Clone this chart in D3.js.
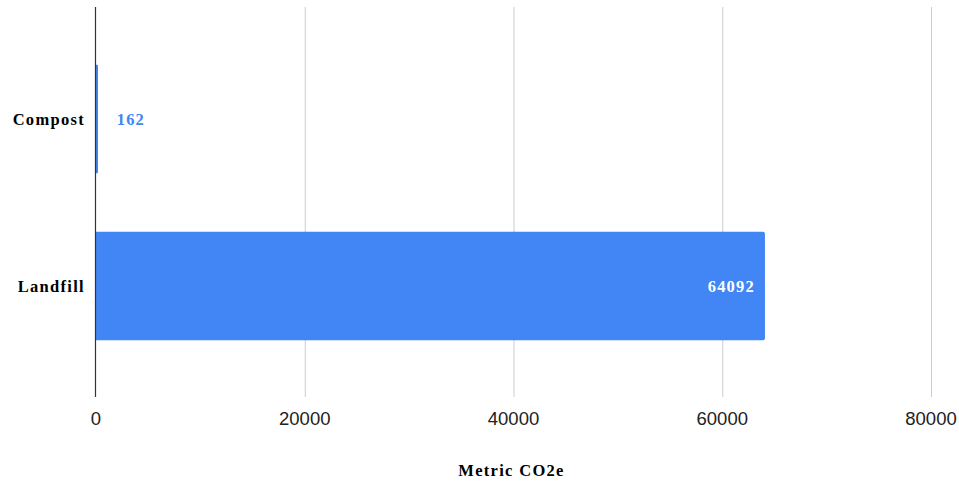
<!DOCTYPE html>
<html>
<head>
<meta charset="utf-8">
<script src="https://cdn.jsdelivr.net/npm/d3@7"></script>
<style>
  body { margin: 0; background: #fff; }
</style>
</head>
<body>
<div id="chart"></div>
<script>
const WIDTH = 959;
const HEIGHT = 485;

const categories = ["Compost", "Landfill"];
const values = [162, 64092];
const xTicks = [0, 20000, 40000, 60000, 80000];
const axisTitle = "Metric CO2e";

const BAR_COLOR = "#4285f4";
const SERIF = "'Liberation Serif', 'DejaVu Serif', serif";
const SANS = "'Liberation Sans', Arial, sans-serif";

const svg = d3.select("#chart")
    .append("svg")
    .attr("width", WIDTH)
    .attr("height", HEIGHT);

const x = d3.scaleLinear()
    .domain([0, 80000])
    .range([96, 931]);

const y = d3.scaleBand()
    .domain(categories)
    .range([35.5, 369.5])
    .paddingInner(0.35)
    .paddingOuter(0.175);

const plotTop = 7, plotBottom = 397;

// gridlines
svg.append("g")
    .selectAll("line")
    .data(xTicks.slice(1))
    .join("line")
    .attr("x1", d => x(d) + 0.5)
    .attr("x2", d => x(d) + 0.5)
    .attr("y1", plotTop)
    .attr("y2", plotBottom)
    .attr("stroke", "#cccccc")
    .attr("stroke-width", 1);

// tick labels
svg.append("g")
    .selectAll("text")
    .data(xTicks)
    .join("text")
    .attr("x", d => x(d))
    .attr("y", 425)
    .attr("text-anchor", "middle")
    .style("font-family", SANS)
    .style("font-size", "18.5px")
    .attr("fill", "#222")
    .text(d => d);

// bars (min 2px so tiny values stay visible, like the original)
const bars = svg.append("g");
categories.forEach((c, i) => {
    const w = Math.max(2, x(values[i]) - x(0));
    bars.append("path")
        .attr("fill", BAR_COLOR)
        .attr("d", () => {
            const x0 = x(0), y0 = y(c), h = y.bandwidth();
            const r = Math.min(2, w / 2);
            return `M${x0},${y0} H${x0 + w - r} Q${x0 + w},${y0} ${x0 + w},${y0 + r} V${y0 + h - r} Q${x0 + w},${y0 + h} ${x0 + w - r},${y0 + h} H${x0} Z`;
        });
});

const inside = i => x(values[i]) - x(0) > 60;

// value labels
svg.append("g")
    .selectAll("text")
    .data(categories)
    .join("text")
    .attr("x", (d, i) => inside(i) ? x(values[i]) - 10 : x(values[i]) + 19)
    .attr("y", d => y(d) + y.bandwidth() / 2)
    .attr("dy", "0.35em")
    .attr("text-anchor", (d, i) => inside(i) ? "end" : "start")
    .style("font-family", SERIF)
    .style("font-weight", "bold")
    .style("font-size", "16.5px")
    .style("letter-spacing", "1.2px")
    .attr("fill", (d, i) => inside(i) ? "#ffffff" : BAR_COLOR)
    .text((d, i) => values[i]);

// category labels
svg.append("g")
    .selectAll("text")
    .data(categories)
    .join("text")
    .attr("x", 85)
    .attr("y", d => y(d) + y.bandwidth() / 2)
    .attr("dy", "0.35em")
    .attr("text-anchor", "end")
    .style("font-family", SERIF)
    .style("font-weight", "bold")
    .style("font-size", "16.5px")
    .style("letter-spacing", "1.3px")
    .attr("fill", "#000")
    .text(d => d);

// baseline
svg.append("line")
    .attr("x1", x(0) - 0.5)
    .attr("x2", x(0) - 0.5)
    .attr("y1", plotTop)
    .attr("y2", plotBottom)
    .attr("stroke", "#333")
    .attr("stroke-width", 1.2);

// axis title
svg.append("text")
    .attr("x", x(40000) - 2)
    .attr("y", 476)
    .attr("text-anchor", "middle")
    .style("font-family", SERIF)
    .style("font-weight", "bold")
    .style("font-size", "16.5px")
    .style("letter-spacing", "1.3px")
    .attr("fill", "#000")
    .text(axisTitle);
</script>
</body>
</html>
